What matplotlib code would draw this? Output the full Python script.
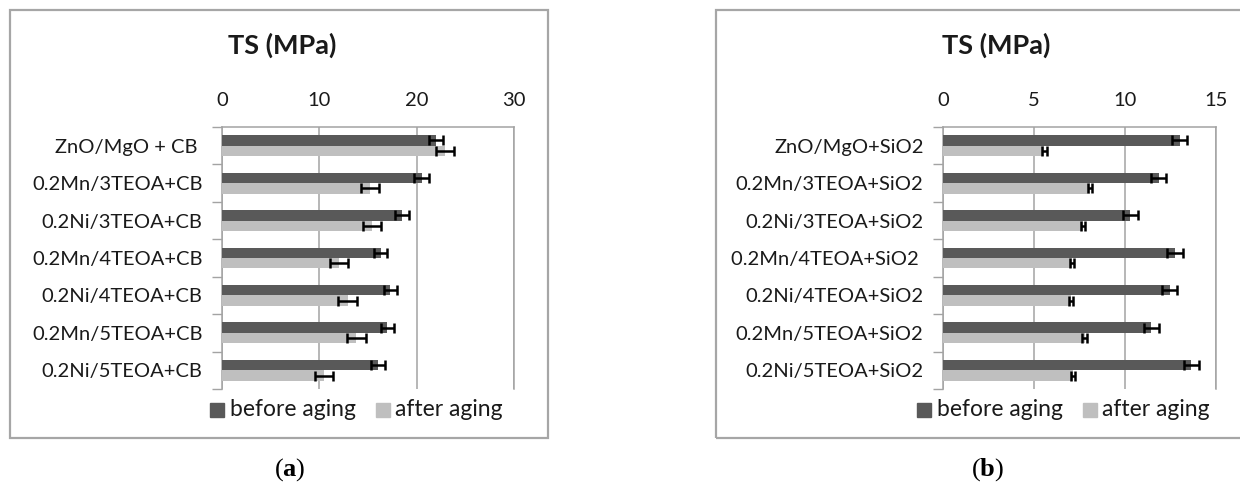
import numpy as np
import matplotlib.pyplot as plt
from matplotlib.patches import Rectangle

plt.rcParams['font.family'] = ['Lato', 'DejaVu Sans']
plt.rcParams['mathtext.fontset'] = 'custom'
plt.rcParams['mathtext.bf'] = 'Liberation Serif:bold'
plt.rcParams['mathtext.rm'] = 'Liberation Serif'

W, H = 1240, 488

# panel (a): carbon black filled samples
labels_a = ['ZnO/MgO + CB ', '0.2Mn/3TEOA+CB', '0.2Ni/3TEOA+CB', '0.2Mn/4TEOA+CB',
            '0.2Ni/4TEOA+CB', '0.2Mn/5TEOA+CB', '0.2Ni/5TEOA+CB']
before_a = [22.0, 20.5, 18.5, 16.3, 17.3, 17.0, 16.0]
before_a_err = [0.7, 0.75, 0.7, 0.7, 0.7, 0.7, 0.7]
after_a = [22.9, 15.2, 15.4, 12.0, 12.9, 13.8, 10.5]
after_a_err = [0.95, 0.9, 0.95, 0.95, 0.95, 0.95, 0.95]

# panel (b): silica filled samples
labels_b = ['ZnO/MgO+SiO2', '0.2Mn/3TEOA+SiO2', '0.2Ni/3TEOA+SiO2', '0.2Mn/4TEOA+SiO2 ',
            '0.2Ni/4TEOA+SiO2', '0.2Mn/5TEOA+SiO2', '0.2Ni/5TEOA+SiO2']
before_b = [13.0, 11.85, 10.3, 12.75, 12.45, 11.45, 13.65]
before_b_err = [0.43, 0.43, 0.43, 0.43, 0.43, 0.43, 0.43]
after_b = [5.57, 8.08, 7.69, 7.09, 7.02, 7.78, 7.13]
after_b_err = [0.12, 0.12, 0.12, 0.12, 0.12, 0.12, 0.12]

dark = '#595959'
light = '#bfbfbf'
grey = '#a3a3a3'
ink = '#1a1a1a'


def px_axes(fig, x0, y0, x1, y1):
    return fig.add_axes([x0 / W, 1 - y1 / H, (x1 - x0) / W, (y1 - y0) / H])


def frame(fig, x0, y0, x1, y1):
    fig.patches.append(Rectangle((x0 / W, 1 - y1 / H), (x1 - x0) / W, (y1 - y0) / H,
                                 transform=fig.transFigure, fill=False,
                                 edgecolor='#a6a6a6', lw=1.6))


def panel(ax, labels, before, before_err, after, after_err, xmax, step):
    y = np.arange(len(labels))
    h = 0.28
    ek = dict(ecolor='black', elinewidth=1.8, capsize=3.6, capthick=1.8)
    ax.barh(y - h / 2, before, h, color=dark, xerr=before_err, error_kw=ek, zorder=3)
    ax.barh(y + h / 2, after, h, color=light, xerr=after_err, error_kw=ek, zorder=3)
    ax.set_xlim(0, xmax)
    ax.set_ylim(len(labels) - 0.5, -0.5)
    ax.set_xticks(np.arange(0, xmax + 1, step))
    ax.xaxis.tick_top()
    ax.tick_params(axis='x', length=0, pad=13, labelsize=14.5, labelcolor=ink)
    ax.set_yticks(y)
    ax.set_yticklabels(labels)
    ax.set_yticks(np.arange(len(labels) + 1) - 0.5, minor=True)
    ax.tick_params(axis='y', which='major', length=0, pad=14, labelsize=14.5,
                   labelcolor=ink)
    ax.tick_params(axis='y', which='minor', length=7, width=1, color=grey)
    ax.grid(axis='x', color=grey, lw=1.1, zorder=0)
    for s in ['left', 'top', 'right']:
        ax.spines[s].set_color(grey)
        ax.spines[s].set_linewidth(1.1)
    ax.spines['bottom'].set_visible(False)


fig = plt.figure(figsize=(W / 100, H / 100), dpi=100)

frame(fig, 10, 10, 548, 438)
frame(fig, 716, 10, 1260, 438)

ax1 = px_axes(fig, 222, 127, 514, 389)
panel(ax1, labels_a, before_a, before_a_err, after_a, after_a_err, 30, 10)
ax2 = px_axes(fig, 943, 127, 1216, 389)
panel(ax2, labels_b, before_b, before_b_err, after_b, after_b_err, 15, 5)

fig.text(282 / W, 1 - 45 / H, 'TS (MPa)', ha='center', va='center',
         fontsize=19.5, fontweight='bold', color=ink)
fig.text(996 / W, 1 - 45 / H, 'TS (MPa)', ha='center', va='center',
         fontsize=19.5, fontweight='bold', color=ink)

# legends
for xs, xt, xs2, xt2 in [(210, 230, 376, 395), (917, 937, 1083, 1102)]:
    yl = 1 - 410 / H
    fig.patches.append(Rectangle((xs / W, yl - 7 / H), 14 / W, 14 / H,
                                 transform=fig.transFigure, color=dark))
    fig.text(xt / W, yl, 'before aging', ha='left', va='center', fontsize=16.5,
             color=ink)
    fig.patches.append(Rectangle((xs2 / W, yl - 7 / H), 14 / W, 14 / H,
                                 transform=fig.transFigure, color=light))
    fig.text(xt2 / W, yl, 'after aging', ha='left', va='center', fontsize=16.5,
             color=ink)

fig.text(290 / W, 1 - 470 / H, r'($\mathbf{a}$)', ha='center', va='center',
         fontsize=19, family='Liberation Serif')
fig.text(988 / W, 1 - 470 / H, r'($\mathbf{b}$)', ha='center', va='center',
         fontsize=19, family='Liberation Serif')

fig.savefig('out.png', dpi=100)
